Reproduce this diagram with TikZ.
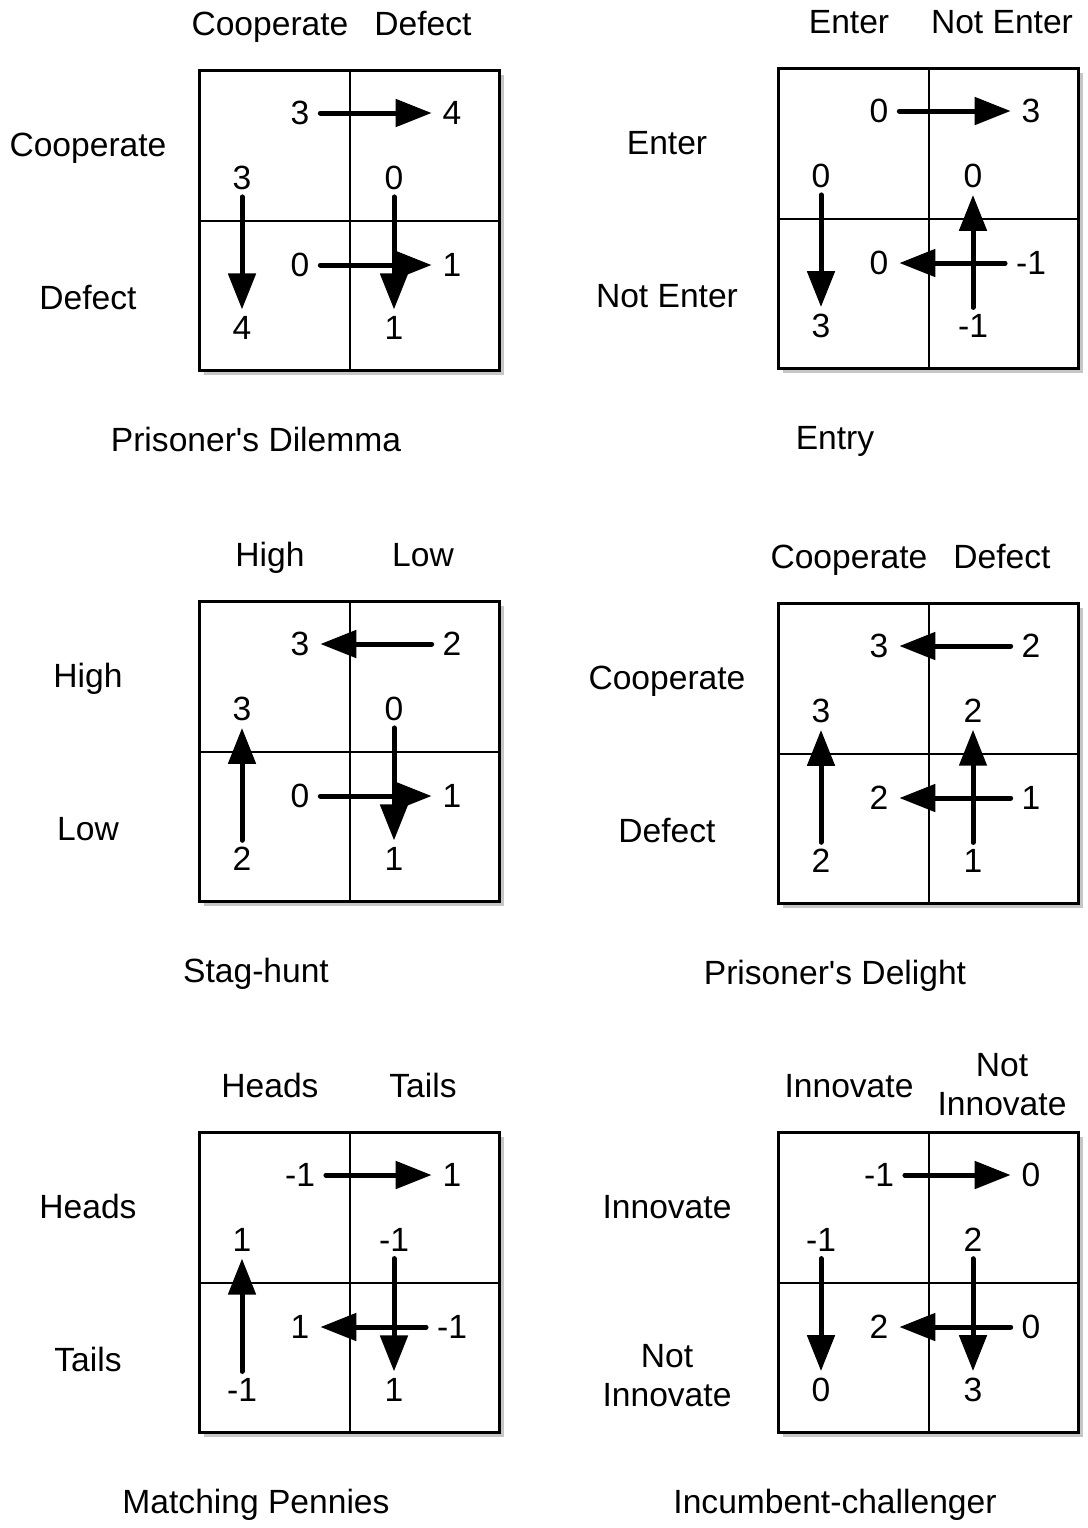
\documentclass[tikz,border=0pt]{standalone}
\usepackage{fontspec}
\setmainfont{Liberation Sans}
\usetikzlibrary{arrows.meta,shadows}
\tikzset{
  >={Triangle[length=18pt,width=13.5pt]},
  board/.style={draw=black,line width=1.5pt,fill=white,minimum size=150pt,inner sep=0pt,
    drop shadow={shadow xshift=2pt,shadow yshift=-2pt,opacity=0.45}},
  divider/.style={line width=1pt},
  pay/.style={inner xsep=5.5pt,inner ysep=3.5pt,outer sep=0pt},
  lbl/.style={align=center,execute at begin node=\strut,execute at end node=\strut},
  rowlbl/.style={lbl,anchor=north},
  move/.style={->,line width=2.5pt,line cap=round},
}
% box, headings and title of one game
\newcommand{\gamebox}[6]{%
  \node[board] (#1-box) at (151.5,151.5) {};
  \draw[divider] (#1-box.north) -- (#1-box.south) (#1-box.west) -- (#1-box.east);
  \node[lbl] (#1-c1) at (72,-41) {#2};
  \node[lbl] (#1-c2) at (225,-41) {#3};
  \node[rowlbl] (#1-r1) at (-110,53) {#4};
  \node[rowlbl] (#1-r2) at (-110,206) {#5};
  \node[lbl] (#1-t) at (58,375) {#6};
}
% the eight payoffs
\newcommand{\payoffs}[9]{%
  \node[pay] (#1-a) at (102,44) {#2};
  \node[pay] (#1-b) at (254,44) {#3};
  \node[pay] (#1-c) at (44,109) {#4};
  \node[pay] (#1-d) at (44,259) {#5};
  \node[pay] (#1-e) at (102,196) {#6};
  \node[pay] (#1-f) at (254,196) {#7};
  \node[pay] (#1-g) at (196,109) {#8};
  \node[pay] (#1-h) at (196,259) {#9};
}
\begin{document}
\begin{tikzpicture}[x=0.5pt,y=-0.5pt,font=\fontsize{16.8}{19.5}\selectfont]
  \useasboundingbox (0,0) rectangle (1088,1528);
  % Prisoner's Dilemma
  \begin{scope}[shift={(198,69)}]
    \gamebox{pd}{Cooperate}{Defect}{Cooperate}{Defect}{Prisoner\textquotesingle s Dilemma}
    \payoffs{pd}{3}{4}{3}{4}{0}{1}{0}{1}
    \draw[move] (pd-a) -- (pd-b);
    \draw[move] (pd-e) -- (pd-f);
    \draw[move] (pd-c) -- (pd-d);
    \draw[move] (pd-g) -- (pd-h);
  \end{scope}
  % Entry
  \begin{scope}[shift={(777,67)}]
    \gamebox{en}{Enter}{Not Enter}{Enter}{Not Enter}{Entry}
    \payoffs{en}{0}{3}{0}{3}{0}{-1}{0}{-1}
    \draw[move] (en-a) -- (en-b);
    \draw[move] (en-f) -- (en-e);
    \draw[move] (en-c) -- (en-d);
    \draw[move] (en-h) -- (en-g);
  \end{scope}
  % Stag-hunt
  \begin{scope}[shift={(198,600)}]
    \gamebox{sh}{High}{Low}{High}{Low}{Stag-hunt}
    \payoffs{sh}{3}{2}{3}{2}{0}{1}{0}{1}
    \draw[move] (sh-b) -- (sh-a);
    \draw[move] (sh-e) -- (sh-f);
    \draw[move] (sh-d) -- (sh-c);
    \draw[move] (sh-g) -- (sh-h);
  \end{scope}
  % Prisoner's Delight
  \begin{scope}[shift={(777,602)}]
    \gamebox{dl}{Cooperate}{Defect}{Cooperate}{Defect}{Prisoner\textquotesingle s Delight}
    \payoffs{dl}{3}{2}{3}{2}{2}{1}{2}{1}
    \draw[move] (dl-b) -- (dl-a);
    \draw[move] (dl-f) -- (dl-e);
    \draw[move] (dl-d) -- (dl-c);
    \draw[move] (dl-h) -- (dl-g);
  \end{scope}
  % Matching Pennies
  \begin{scope}[shift={(198,1131)}]
    \gamebox{mp}{Heads}{Tails}{Heads}{Tails}{Matching Pennies}
    \payoffs{mp}{-1}{1}{1}{-1}{1}{-1}{-1}{1}
    \draw[move] (mp-a) -- (mp-b);
    \draw[move] (mp-f) -- (mp-e);
    \draw[move] (mp-d) -- (mp-c);
    \draw[move] (mp-g) -- (mp-h);
  \end{scope}
  % Incumbent-challenger
  \begin{scope}[shift={(777,1131)}]
    \gamebox{ic}{Innovate}{Not\\Innovate}{Innovate}{Not\\Innovate}{Incumbent-challenger}
    \payoffs{ic}{-1}{0}{-1}{0}{2}{0}{2}{3}
    \draw[move] (ic-a) -- (ic-b);
    \draw[move] (ic-f) -- (ic-e);
    \draw[move] (ic-c) -- (ic-d);
    \draw[move] (ic-g) -- (ic-h);
  \end{scope}
\end{tikzpicture}
\end{document}
